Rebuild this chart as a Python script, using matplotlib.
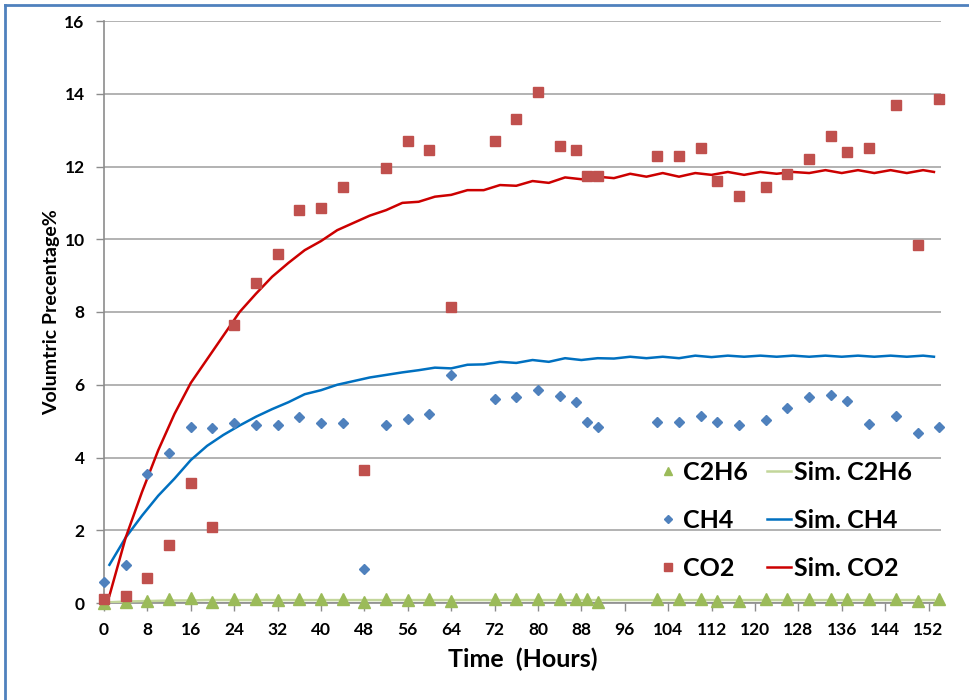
import matplotlib
matplotlib.use("Agg")
import matplotlib.pyplot as plt
from matplotlib.lines import Line2D

plt.rcParams['font.family'] = ['Lato', 'DejaVu Sans']
plt.rcParams['font.weight'] = 'bold'

# measured samples (hours)
time_h = [0, 4, 8, 12, 16, 20, 24, 28, 32, 36, 40, 44, 48, 52, 56, 60, 64,
          72, 76, 80, 84, 87, 89, 91, 102, 106, 110, 113, 117, 122, 126, 130,
          134, 137, 141, 146, 150, 154]
co2 = [0.1, 0.2, 0.7, 1.6, 3.3, 2.1, 7.65, 8.8, 9.6, 10.8, 10.85, 11.45, 3.65,
       11.95, 12.7, 12.45, 8.15, 12.7, 13.3, 14.05, 12.55, 12.45, 11.75, 11.75,
       12.3, 12.3, 12.5, 11.6, 11.2, 11.45, 11.8, 12.2, 12.85, 12.4, 12.5,
       13.7, 9.85, 13.85]
ch4 = [0.58, 1.05, 3.55, 4.13, 4.85, 4.8, 4.95, 4.9, 4.9, 5.1, 4.95, 4.95, 0.93,
       4.9, 5.05, 5.2, 6.27, 5.6, 5.65, 5.85, 5.7, 5.53, 4.98, 4.85, 4.98, 4.98,
       5.14, 4.98, 4.9, 5.03, 5.36, 5.65, 5.72, 5.56, 4.93, 5.14, 4.68, 4.85]
c2h6 = [0.0, 0.02, 0.06, 0.11, 0.14, 0.03, 0.11, 0.11, 0.08, 0.11, 0.11, 0.11,
        0.02, 0.11, 0.09, 0.11, 0.05, 0.11, 0.11, 0.11, 0.11, 0.11, 0.11, 0.04,
        0.11, 0.11, 0.11, 0.06, 0.06, 0.11, 0.11, 0.11, 0.11, 0.11, 0.11, 0.11,
        0.06, 0.11]

# simulation curves
sim_t = [1, 4, 7, 10, 13, 16, 19, 22, 25, 28, 31, 34, 37, 40, 43, 46, 49, 52,
         55, 58, 61, 64, 67, 70, 73, 76, 79, 82, 85, 88, 91, 94, 97, 100, 103,
         106, 109, 112, 115, 118, 121, 124, 127, 130, 133, 136, 139, 142, 145,
         148, 151, 153]
sim_co2 = [0.2, 1.8, 3.05, 4.2, 5.2, 6.05, 6.7, 7.35, 8.0, 8.5, 8.97, 9.35, 9.7,
           9.95, 10.25, 10.45, 10.65, 10.8, 11.0, 11.03, 11.17, 11.22, 11.35,
           11.35, 11.49, 11.47, 11.6, 11.55, 11.7, 11.65, 11.72, 11.68, 11.8,
           11.72, 11.82, 11.72, 11.82, 11.77, 11.85, 11.77, 11.85, 11.8, 11.85,
           11.82, 11.9, 11.82, 11.9, 11.82, 11.9, 11.82, 11.9, 11.85]
sim_ch4 = [1.05, 1.8, 2.4, 2.95, 3.42, 3.93, 4.32, 4.62, 4.88, 5.12, 5.33, 5.52,
           5.74, 5.85, 6.0, 6.1, 6.2, 6.27, 6.34, 6.4, 6.47, 6.45, 6.55, 6.56,
           6.63, 6.6, 6.68, 6.63, 6.73, 6.68, 6.73, 6.72, 6.77, 6.73, 6.77, 6.73,
           6.8, 6.76, 6.8, 6.77, 6.8, 6.77, 6.8, 6.77, 6.8, 6.77, 6.8, 6.77, 6.8,
           6.77, 6.8, 6.77]
sim_c2h6 = [0.02, 0.04, 0.05, 0.06, 0.07, 0.07, 0.08, 0.08, 0.08, 0.08, 0.08,
            0.08, 0.08, 0.08, 0.08, 0.08, 0.08, 0.08, 0.08, 0.08, 0.08, 0.08,
            0.08, 0.08, 0.08, 0.08, 0.08, 0.08, 0.08, 0.08, 0.08, 0.08, 0.08,
            0.08, 0.08, 0.08, 0.08, 0.08, 0.08, 0.08, 0.08, 0.08, 0.08, 0.08,
            0.08, 0.08, 0.08, 0.08, 0.08, 0.08, 0.08, 0.08]

x_ticks = list(range(0, 153, 8))
y_ticks = list(range(0, 17, 2))

fig = plt.figure(figsize=(9.69, 7), dpi=100)
ax = fig.add_axes([104 / 969, 1 - 603 / 700, (941 - 104) / 969, (603 - 21) / 700])

# frame of the original picture (left and top only)
fig.add_artist(Line2D([5 / 969, 5 / 969], [0, 1 - 5 / 700], color='#4f81bd', lw=2))
fig.add_artist(Line2D([5 / 969, 1], [1 - 5 / 700, 1 - 5 / 700], color='#4f81bd', lw=2))

ax.plot(sim_t, sim_c2h6, color='#c3d69b', lw=1.8, label='Sim. C2H6', zorder=3)
ax.plot(sim_t, sim_ch4, color='#0070c0', lw=1.8, label='Sim. CH4', zorder=3)
ax.plot(sim_t, sim_co2, color='#cc0000', lw=1.8, label='Sim. CO2', zorder=3)
ax.plot(time_h, c2h6, ls='none', marker='^', ms=8, color='#9bbb59',
        label='C2H6', clip_on=False, zorder=4)
ax.plot(time_h, ch4, ls='none', marker='D', ms=5.5, color='#4f81bd',
        label='CH4', clip_on=False, zorder=4)
ax.plot(time_h, co2, ls='none', marker='s', ms=6.5, color='#c0504d',
        label='CO2', clip_on=False, zorder=4)

ax.set_xlim(0, 154.3)
ax.set_ylim(0, 16)
ax.set_xticks(x_ticks)
ax.set_yticks(y_ticks)
ax.grid(axis='y', color='#a6a6a6', lw=1.2)
ax.set_axisbelow(True)
for s in ['top', 'right']:
    ax.spines[s].set_visible(False)
for s in ['left', 'bottom']:
    ax.spines[s].set_color('#8c8c8c')
    ax.spines[s].set_linewidth(1.2)
ax.tick_params(direction='out', length=6, width=1, color='#8c8c8c',
               labelsize=12.5, pad=8)
for lab in ax.get_xticklabels() + ax.get_yticklabels():
    lab.set_fontweight('bold')

ax.set_xlabel('Time  (Hours)', fontsize=18, fontweight='bold')
ax.xaxis.set_label_coords(0.5, -0.076)
ax.set_ylabel('Volumtric Precentage%', fontsize=14, fontweight='bold')
ax.yaxis.set_label_coords(-0.053, 0.5)

h, l = ax.get_legend_handles_labels()
order = [3, 4, 5, 0, 1, 2]
leg = ax.legend([h[i] for i in order], [l[i] for i in order], ncol=2,
                loc='center', bbox_to_anchor=(784 / 969, 1 - 520 / 700),
                bbox_transform=fig.transFigure, frameon=False,
                prop={'size': 18, 'weight': 'bold'}, handlelength=0.95,
                handletextpad=0.1, columnspacing=0.8, labelspacing=1.0,
                markerscale=0.8)

fig.savefig('out.png', dpi=100)
